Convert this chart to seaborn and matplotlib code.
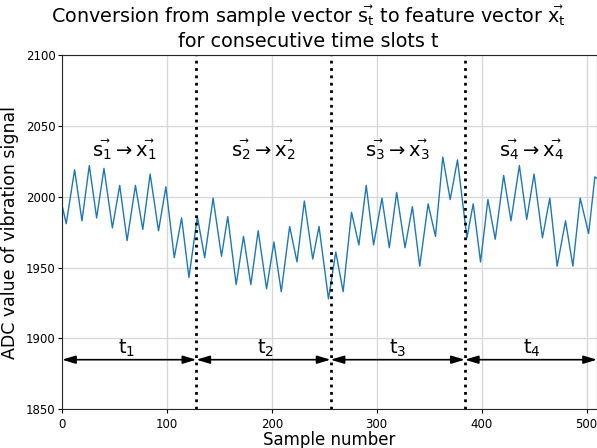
import numpy as np
import pandas as pd
import matplotlib
matplotlib.use("Agg")
import matplotlib.pyplot as plt
import seaborn as sns

# peaks / troughs of the vibration signal
sample_idx = [0, 4, 12, 19, 26, 33, 40, 48, 55, 62, 70, 77, 84, 92, 99, 107, 114, 121,
              129, 136, 144, 152, 158, 166, 173, 180, 187, 195, 202, 209, 217, 224, 231, 239, 245, 254,
              261, 268, 276, 283, 290, 297, 305, 312, 319, 327, 334, 341, 349, 356, 363, 370, 377,
              386, 392, 399, 406, 413, 421, 428, 436, 443, 450, 458, 465, 472, 480, 487, 494, 502, 508, 510]
adc_values = [1994, 1981, 2019, 1983, 2022, 1985, 2020, 1978, 2008, 1969, 2008, 1977, 2016, 1976, 2007, 1957, 1985, 1943,
              1986, 1957, 1999, 1958, 1986, 1938, 1972, 1938, 1976, 1935, 1968, 1933, 1979, 1954, 1997, 1956, 1979, 1928,
              1961, 1933, 1989, 1966, 2008, 1966, 1999, 1964, 2003, 1964, 1993, 1951, 1995, 1972, 2028, 1998, 2026,
              1971, 1995, 1954, 1998, 1970, 2015, 1983, 2022, 1984, 2016, 1971, 1999, 1951, 1983, 1951, 1999, 1974, 2014, 2013]

slot_bounds = [0, 128, 256, 384, 510]
slot_names = ["1", "2", "3", "4"]
t_label_x = [62, 194, 320, 448]
vec_label_x = [59, 192, 320, 448]

df = pd.DataFrame({"sample": sample_idx, "adc": adc_values})

sns.set_style("ticks")
plt.rcParams["mathtext.default"] = "regular"
plt.rcParams["font.family"] = ["DejaVu Sans"]
plt.rcParams["text.color"] = "black"
plt.rcParams["axes.labelcolor"] = "black"
plt.rcParams["xtick.color"] = "black"
plt.rcParams["ytick.color"] = "black"

fig = plt.figure(figsize=(5.97, 4.48), dpi=100)
ax = fig.add_axes([0.1039, 0.0864, 0.8961, 0.7908])

sns.lineplot(data=df, x="sample", y="adc", ax=ax, color="#1f77b4", linewidth=1)

for b in slot_bounds[1:-1]:
    ax.axvline(b, color="black", linestyle=":", linewidth=2)

for i in range(4):
    ax.annotate("", xy=(slot_bounds[i + 1], 1885), xytext=(slot_bounds[i], 1885),
                arrowprops=dict(arrowstyle="<|-|>,head_length=0.4,head_width=0.12",
                                color="black", lw=1.2, mutation_scale=20,
                                shrinkA=0, shrinkB=0))
    ax.text(t_label_x[i], 1893, "t$_{%s}$" % slot_names[i], ha="center", va="center", fontsize=14)
    ax.text(vec_label_x[i], 2033,
            r"$\vec{s_%s} \rightarrow \vec{x_%s}$" % (slot_names[i], slot_names[i]),
            ha="center", va="center", fontsize=14)

ax.set_xlim(0, 510)
ax.set_ylim(1850, 2100)
ax.set_xticks([0, 100, 200, 300, 400, 500])
ax.set_yticks([1850, 1900, 1950, 2000, 2050, 2100])
ax.grid(True, color="#d9d9d9", linewidth=1)
ax.set_axisbelow(True)
ax.tick_params(labelsize=8.5, length=3)
ax.tick_params(axis="y", pad=1.5)
ax.tick_params(axis="x", pad=3)
ax.set_xlabel("Sample number", fontsize=12, labelpad=0)
ax.set_ylabel("ADC value of vibration signal", fontsize=12.5, labelpad=5)
ax.set_title(r"Conversion from sample vector $\vec{s_t}$ to feature vector $\vec{x_t}$"
             "\nfor consecutive time slots t", fontsize=13.8, pad=6, x=0.46)

fig.savefig("out.png", dpi=100)
